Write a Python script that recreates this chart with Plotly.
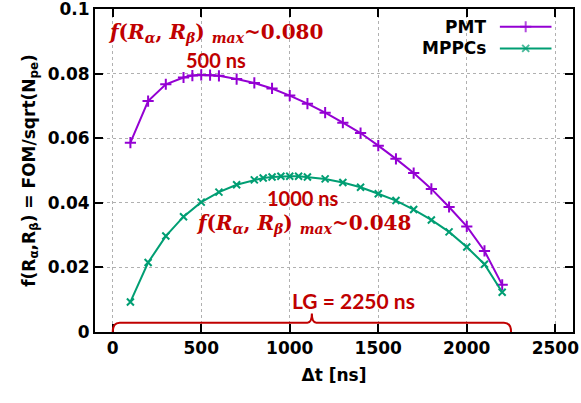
import plotly.graph_objects as go

# ---- data ----
pmt_x = [100, 200, 300, 400, 450, 500, 550, 600, 700, 800, 900, 1000, 1100, 1200,
         1300, 1400, 1500, 1600, 1700, 1800, 1900, 2000, 2100, 2200]
pmt_y = [0.0586, 0.0715, 0.0767, 0.0788, 0.0794, 0.0796, 0.0795, 0.0793, 0.0783, 0.0771,
         0.0754, 0.0732, 0.0707, 0.0679, 0.0648, 0.0616, 0.0577, 0.0536, 0.0492, 0.0443,
         0.0387, 0.0327, 0.0251, 0.0146]
mppc_x = [100, 200, 300, 400, 500, 600, 700, 800, 850, 900, 950, 1000, 1050, 1100,
          1200, 1300, 1400, 1500, 1600, 1700, 1800, 1900, 2000, 2100, 2200]
mppc_y = [0.0093, 0.0215, 0.0297, 0.0357, 0.0402, 0.0433, 0.0456, 0.0471, 0.0477, 0.0480,
          0.0482, 0.0482, 0.0482, 0.0480, 0.0474, 0.0463, 0.0448, 0.0428, 0.0407, 0.0379,
          0.0347, 0.0310, 0.0263, 0.0210, 0.0123]
series_names = ["PMT", "MPPCs"]
x_ticks = [0, 500, 1000, 1500, 2000, 2500]
y_ticks = [0, 0.02, 0.04, 0.06, 0.08, 0.1]
y_tick_text = ["0", "0.02", "0.04", "0.06", "0.08", "0.1"]
gate_length = 2250
pmt_peak_t, pmt_peak_f = 500, 0.080
mppc_peak_t, mppc_peak_f = 1000, 0.048

PURPLE = "#9400D3"
GREEN = "#009E73"
RED = "#C00000"
TICKFONT = dict(family="DejaVu Sans", size=17, color="black")

fig = go.Figure()
fig.add_trace(go.Scatter(
    x=pmt_x, y=pmt_y, mode="lines+markers", name=series_names[0],
    line=dict(color=PURPLE, width=2),
    marker=dict(symbol="cross-thin", size=8, color=PURPLE, line=dict(color=PURPLE, width=2)),
    showlegend=False))
fig.add_trace(go.Scatter(
    x=mppc_x, y=mppc_y, mode="lines+markers", name=series_names[1],
    line=dict(color=GREEN, width=2),
    marker=dict(symbol="x-thin", size=7, color=GREEN, line=dict(color=GREEN, width=2)),
    showlegend=False))

# ---- manual legend (text left of key, gnuplot style) on an overlay axis ----
leg_x0, leg_x1 = 0.847, 0.955
leg_rows = [0.945, 0.878]
styles = [(PURPLE, "cross-thin", 8), (GREEN, "x-thin", 7)]
for name, yy, (col, sym, sz) in zip(series_names, leg_rows, styles):
    fig.add_trace(go.Scatter(
        x=[leg_x0, (leg_x0 + leg_x1) / 2, leg_x1], y=[yy, yy, yy],
        xaxis="x2", yaxis="y2", mode="lines+markers",
        line=dict(color=col, width=2),
        marker=dict(symbol=sym, size=[0, sz, 0], color=col, line=dict(color=col, width=2)),
        showlegend=False, hoverinfo="skip"))
    fig.add_annotation(x=leg_x0 - 0.025, y=yy, xref="x2", yref="y2", text="<b>%s</b>" % name,
                       showarrow=False, xanchor="right", yanchor="middle",
                       font=dict(family="DejaVu Sans", size=17, color="black"))

# ---- annotations ----
def fmax_text(v):
    return ("<b><i>f</i>(<i>R</i><sub><i>α</i></sub>, <i>R</i><sub><i>β</i></sub>)"
            " <sub><i>max</i></sub>~%.3f</b>" % v)

SERIF = dict(family="DejaVu Serif", size=20, color=RED)
SANS = dict(family="Lato", size=20, color=RED)
fig.add_annotation(x=580, y=0.0925, text=fmax_text(pmt_peak_f), showarrow=False,
                   xanchor="center", yanchor="middle", font=SERIF)
fig.add_annotation(x=585, y=0.0841, text="<b>%d ns</b>" % pmt_peak_t, showarrow=False,
                   xanchor="center", yanchor="middle", font=SANS)
fig.add_annotation(x=1075, y=0.0415, text="<b>%d ns</b>" % mppc_peak_t, showarrow=False,
                   xanchor="center", yanchor="middle", font=SANS)
fig.add_annotation(x=1075, y=0.0335, text=fmax_text(mppc_peak_f), showarrow=False,
                   xanchor="center", yanchor="middle", font=SERIF)
fig.add_annotation(x=1362, y=0.0097, text="<b>LG = %d ns</b>" % gate_length, showarrow=False,
                   xanchor="center", yanchor="middle", font=dict(family="Lato", size=21, color=RED))

# bracket spanning the gate length
h, n = 0.0029, 0.0057
m = gate_length / 2
path = (f"M 0,0 Q 0,{h} 40,{h} L {m-25},{h} Q {m},{h} {m},{n} "
        f"Q {m},{h} {m+25},{h} L {gate_length-40},{h} Q {gate_length},{h} {gate_length},0")
fig.add_shape(type="path", path=path, line=dict(color=RED, width=2), layer="above")

axis_common = dict(showline=True, linecolor="black", linewidth=2, mirror="ticks",
                   ticks="inside", ticklen=8, tickwidth=2, tickcolor="black",
                   showgrid=True, gridcolor="#b0b0b0", griddash="dot", gridwidth=1,
                   zeroline=False, tickfont=TICKFONT, automargin=False,
                   ticklabeloverflow="allow")

fig.update_layout(
    width=581, height=403,
    margin=dict(l=95, r=8, t=9, b=71),
    plot_bgcolor="white", paper_bgcolor="white",
    xaxis=dict(range=[-100, 2600], tickvals=x_ticks,
               ticktext=["<b>%d</b>" % t for t in x_ticks],
               title=dict(text="<b>Δt [ns]</b>",
                          font=dict(family="DejaVu Sans", size=17, color="black"),
                          standoff=12),
               **axis_common),
    yaxis=dict(range=[0, 0.1], tickvals=y_ticks, ticktext=["<b>%s</b>" % t for t in y_tick_text],
               title=dict(text="<b>f(R<sub>α</sub>,R<sub>β</sub>) = FOM/sqrt(N<sub>pe</sub>)</b>",
                          font=dict(family="DejaVu Sans", size=17, color="black"), standoff=8),
               **axis_common),
    xaxis2=dict(range=[0, 1], overlaying="x", visible=False, fixedrange=True),
    yaxis2=dict(range=[0, 1], overlaying="y", visible=False, fixedrange=True),
)

fig.write_html("out.html", config={"displayModeBar": False},
               post_script="document.body.style.margin='0';")
